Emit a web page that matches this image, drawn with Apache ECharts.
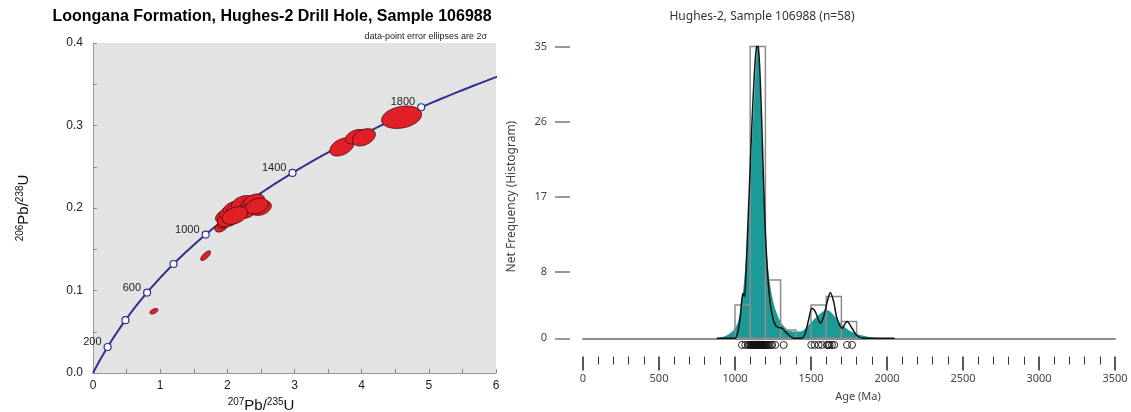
<!DOCTYPE html>
<html>
<head>
<meta charset="utf-8">
<script src="https://cdn.jsdelivr.net/npm/echarts@6/dist/echarts.min.js"></script>
<style>html,body{margin:0;padding:0;background:#fff}#c{width:1131px;height:412px}</style>
</head>
<body>
<div id="c"></div>
<script>
// ---------------- Left panel: concordia diagram ----------------
// decay constants (per Myr)
const LAMBDA_238 = 1.55125e-4;
const LAMBDA_235 = 9.8485e-4;
const concordiaMarkerAges = [200, 400, 600, 800, 1000, 1200, 1400, 1600, 1800];
const concordiaLabelAges = [200, 600, 1000, 1400, 1800];
const concordiaMaxAge = 2000;

// error ellipses (2 sigma): centre 207Pb/235U, 206Pb/238U, half-extents, correlation
const ellX   = [1.915, 1.964, 1.979, 2.024, 2.054, 2.083, 2.158, 2.232, 2.351, 2.396, 2.292, 2.500, 2.440, 2.113, 1.677, 0.907, 3.705, 3.914, 4.033, 4.594];
const ellY   = [0.1776, 0.1830, 0.1903, 0.1867, 0.1952, 0.2000, 0.1988, 0.2061, 0.2048, 0.2085, 0.1964, 0.2000, 0.2024, 0.1909, 0.1422, 0.0749, 0.2740, 0.2864, 0.2857, 0.3100];
const ellSX  = [0.100, 0.110, 0.155, 0.170, 0.170, 0.140, 0.170, 0.170, 0.155, 0.155, 0.155, 0.155, 0.170, 0.190, 0.074, 0.060, 0.179, 0.156, 0.171, 0.298];
const ellSY  = [0.0068, 0.0072, 0.0090, 0.0096, 0.0090, 0.0080, 0.0090, 0.0090, 0.0090, 0.0085, 0.0090, 0.0090, 0.0096, 0.0108, 0.0059, 0.0034, 0.0110, 0.0088, 0.0105, 0.0136];
const ellRho = [0.45, 0.4, 0.35, 0.35, 0.35, 0.35, 0.35, 0.35, 0.35, 0.35, 0.35, 0.3, 0.3, 0.35, 0.72, 0.5, 0.4, 0.35, 0.35, 0.25];

// ---------------- Right panel: age histogram ----------------
const histBinStart = [1000, 1100, 1200, 1300, 1500, 1600, 1700];
const histBinEnd   = [1100, 1200, 1300, 1400, 1600, 1700, 1800];
const histCount    = [4, 35, 7, 1, 4, 5, 2];
const freqTicks = [0, 8, 17, 26, 35];

const kdeAges = [880, 940, 991, 1020, 1046, 1070, 1094, 1112, 1127, 1140, 1149, 1158, 1168, 1182, 1199, 1220, 1254, 1298, 1340, 1380, 1430, 1495, 1550, 1605, 1649, 1693, 1747, 1803, 1889, 1970, 2050];
const kdeVals = [0, 0.3, 1.0, 2.0, 4.5, 9, 16, 23.5, 29, 33.5, 35.2, 33.5, 28.5, 21, 14, 8, 4.2, 2.0, 1.1, 0.8, 0.8, 1.8, 2.8, 3.4, 2.8, 1.8, 1.0, 0.5, 0.12, 0.03, 0];

const pdpAges = [880, 1000, 1015, 1027, 1035, 1045, 1053, 1063, 1071, 1079, 1090, 1101, 1112, 1122, 1136, 1149, 1158, 1166, 1175, 1184, 1194, 1204, 1218, 1232, 1248, 1265, 1285, 1309, 1325, 1342, 1365, 1386, 1440, 1462, 1484, 1506, 1528, 1545, 1561, 1578, 1594, 1610, 1627, 1649, 1671, 1704, 1737, 1770, 1803, 1846, 2050];
const pdpVals = [0, 0, 0.5, 1.5, 2.6, 4.6, 5.4, 5.0, 7.5, 11, 16, 21, 26, 29.8, 34, 35.5, 34, 31, 26.5, 21, 15.5, 11, 6.8, 4.2, 2.5, 1.6, 1.3, 1.2, 0.9, 0.6, 0.2, 0, 0, 0.6, 2.2, 3.6, 3.2, 2.4, 1.8, 2.3, 3.4, 4.6, 5.5, 4.4, 2.4, 1.2, 2.0, 1.2, 0.3, 0, 0];

const grainAges = [1046, 1068, 1085, 1094,
  1102, 1108, 1113, 1117, 1120, 1123, 1126, 1128, 1131, 1133, 1135, 1137, 1139, 1141, 1143, 1145, 1147, 1149,
  1151, 1153, 1155, 1157, 1159, 1161, 1163, 1166, 1169, 1172, 1175, 1178, 1182, 1186, 1190, 1194, 1198,
  1204, 1210, 1216, 1222, 1236, 1245, 1265,
  1320,
  1502, 1524, 1550, 1572,
  1605, 1614, 1622, 1638, 1653,
  1737, 1770];

// ---------------- build ----------------
const LEFT_FONT = '"Liberation Sans", Arial, Helvetica, sans-serif';
const RIGHT_FONT = '"Noto Sans", "Open Sans", sans-serif';
const NAVY = '#2e3192';

const concCurve = [];
for (let t = 0; t <= concordiaMaxAge; t += 10) {
  concCurve.push([Math.expm1(LAMBDA_235 * t), Math.expm1(LAMBDA_238 * t)]);
}
const concMarkers = concordiaMarkerAges.map(t => ({
  value: [Math.expm1(LAMBDA_235 * t), Math.expm1(LAMBDA_238 * t)],
  age: t,
  label: { show: concordiaLabelAges.indexOf(t) >= 0 }
}));
const ellData = ellX.map((x, i) => [x, ellY[i], ellSX[i], ellSY[i], ellRho[i]]);
const histData = histBinStart.map((s, i) => [s, histBinEnd[i], histCount[i]]);
const kdeData = kdeAges.map((a, i) => [a, kdeVals[i]]);
const pdpData = pdpAges.map((a, i) => [a, pdpVals[i]]);
const grainData = grainAges.map(a => [a, -0.8]);

function ellipseRender(params, api) {
  const cx = api.value(0), cy = api.value(1), sx = api.value(2), sy = api.value(3), r = api.value(4);
  const pts = [];
  const n = 60;
  const q = Math.sqrt(1 - r * r);
  for (let k = 0; k < n; k++) {
    const th = 2 * Math.PI * k / n;
    pts.push(api.coord([cx + sx * Math.cos(th), cy + sy * (r * Math.cos(th) + q * Math.sin(th))]));
  }
  return { type: 'polygon', shape: { points: pts }, style: { fill: '#e21f26', stroke: '#3b0b0b', lineWidth: 0.8 } };
}
function histRender(params, api) {
  const a = api.coord([api.value(0), 0]);
  const b = api.coord([api.value(1), api.value(2)]);
  return { type: 'rect', shape: { x: a[0], y: b[1], width: b[0] - a[0], height: a[1] - b[1] },
           style: { fill: 'none', stroke: '#8c8c8c', lineWidth: 1.5 } };
}

const supRich = {
  n: { fontSize: 15, fontFamily: LEFT_FONT, color: '#111', lineHeight: 18 },
  sup: { fontSize: 10, fontFamily: LEFT_FONT, color: '#111', verticalAlign: 'top', lineHeight: 18, padding: [0, 0, 6, 0] }
};

const chart = echarts.init(document.getElementById('c'));
chart.setOption({
  animation: false,
  backgroundColor: '#fff',
  graphic: [
    { type: 'text', x: 272, y: 17, style: { text: 'Loongana Formation, Hughes-2 Drill Hole, Sample 106988', font: 'bold 16px "Liberation Sans", Arial', fill: '#000', align: 'center', verticalAlign: 'middle' } },
    { type: 'text', x: 487, y: 37, style: { text: 'data-point error ellipses are 2σ', font: '9px "Liberation Sans", Arial', fill: '#222', align: 'right', verticalAlign: 'middle' } },
    { type: 'text', x: 762, y: 17, style: { text: 'Hughes-2, Sample 106988 (n=58)', font: '12px "Noto Sans"', fill: '#333', align: 'center', verticalAlign: 'middle' } }
  ],
  grid: [
    { left: 93, top: 43, width: 403, height: 330, show: true, backgroundColor: '#e3e3e3', borderWidth: 0, containLabel: false, outerBoundsMode: 'none' },
    { left: 583, top: 46.6, width: 532, height: 300, show: false, containLabel: false, outerBoundsMode: 'none' }
  ],
  xAxis: [
    { gridIndex: 0, type: 'value', min: 0, max: 6, interval: 1,
      axisLine: { show: true, onZero: false, lineStyle: { color: '#9a9a9a', width: 1 } },
      axisTick: { show: true, inside: true, length: 4, lineStyle: { color: '#8a8a8a' } },
      minorTick: { show: true, splitNumber: 2, length: 4, lineStyle: { color: '#8a8a8a' } },
      splitLine: { show: false }, minorSplitLine: { show: false },
      axisLabel: { margin: 7, fontSize: 12, color: '#222', fontFamily: LEFT_FONT },
      name: '{sup|207}{n|Pb/}{sup|235}{n|U}', nameLocation: 'middle', nameGap: 12,
      nameTextStyle: { padding: [0, 67, 0, 0], rich: supRich } },
    { gridIndex: 1, type: 'value', min: 0, max: 3500,
      axisLine: { show: true, onZero: true, lineStyle: { color: '#8c8c8c', width: 2 } },
      axisTick: { show: false }, axisLabel: { show: false }, splitLine: { show: false } },
    { gridIndex: 1, type: 'value', min: 0, max: 3500, interval: 500, position: 'bottom', offset: 10,
      axisLine: { show: false, onZero: false },
      axisTick: { show: true, length: 14, lineStyle: { color: '#222', width: 1.5 } },
      minorTick: { show: true, splitNumber: 5, length: 8, lineStyle: { color: '#333', width: 1 } },
      splitLine: { show: false }, minorSplitLine: { show: false },
      axisLabel: { margin: 17, fontSize: 11, color: '#444', fontFamily: RIGHT_FONT, formatter: v => String(v) },
      name: 'Age (Ma)', nameLocation: 'middle', nameGap: 35,
      nameTextStyle: { fontSize: 11, color: '#444', fontFamily: RIGHT_FONT, padding: [0, 0, 0, 18] } }
  ],
  yAxis: [
    { gridIndex: 0, type: 'value', min: 0, max: 0.4, interval: 0.1,
      axisLine: { show: true, onZero: false, lineStyle: { color: '#9a9a9a', width: 1 } },
      axisTick: { show: true, inside: true, length: 4, lineStyle: { color: '#8a8a8a' } },
      minorTick: { show: true, splitNumber: 2, length: 4, lineStyle: { color: '#8a8a8a' } },
      splitLine: { show: false }, minorSplitLine: { show: false },
      axisLabel: { margin: 10, fontSize: 12, color: '#222', fontFamily: LEFT_FONT, formatter: v => v.toFixed(1) },
      name: '{sup|206}{n|Pb/}{sup|238}{n|U}', nameLocation: 'middle', nameRotate: 90, nameGap: 60,
      nameTextStyle: { rich: supRich } },
    { gridIndex: 1, type: 'value', min: -1, max: 35, offset: 13,
      axisLine: { show: false, onZero: false },
      axisTick: { show: true, length: 15, customValues: freqTicks, lineStyle: { color: '#777', width: 1.5 } },
      axisLabel: { customValues: freqTicks, margin: 23, fontSize: 11, color: '#444', fontFamily: RIGHT_FONT },
      splitLine: { show: false },
      name: 'Net Frequency (Histogram)', nameLocation: 'middle', nameRotate: 90, nameGap: 52,
      nameTextStyle: { fontSize: 12, color: '#444', fontFamily: RIGHT_FONT } }
  ],
  series: [
    { type: 'line', xAxisIndex: 0, yAxisIndex: 0, data: concCurve, showSymbol: false, silent: true,
      lineStyle: { color: NAVY, width: 2 }, z: 2 },
    { type: 'scatter', xAxisIndex: 0, yAxisIndex: 0, data: concMarkers, symbolSize: 7, silent: true,
      itemStyle: { color: '#fff', borderColor: NAVY, borderWidth: 1.2, opacity: 1 },
      label: { position: 'left', distance: 2, offset: [0, -5], fontSize: 11, color: '#222', fontFamily: LEFT_FONT,
               formatter: p => String(p.data.age) }, z: 3 },
    { type: 'custom', xAxisIndex: 0, yAxisIndex: 0, data: ellData, renderItem: ellipseRender,
      encode: { x: 0, y: 1 }, silent: true, z: 4 },
    { type: 'line', xAxisIndex: 1, yAxisIndex: 1, data: kdeData, smooth: 0.3, showSymbol: false, silent: true,
      lineStyle: { width: 0 }, itemStyle: { color: '#1b9b97' }, areaStyle: { color: '#1b9b97', opacity: 1 }, z: 2 },
    { type: 'custom', xAxisIndex: 1, yAxisIndex: 1, data: histData, renderItem: histRender,
      encode: { x: [0, 1], y: 2 }, silent: true, z: 3 },
    { type: 'line', xAxisIndex: 1, yAxisIndex: 1, data: pdpData, smooth: 0.3, showSymbol: false, silent: true,
      lineStyle: { color: '#111', width: 1.5 }, itemStyle: { color: '#111' }, z: 4 },
    { type: 'scatter', xAxisIndex: 1, yAxisIndex: 1, data: grainData, symbol: 'circle', symbolSize: 7, silent: true,
      itemStyle: { color: 'rgba(255,255,255,0)', borderColor: '#111', borderWidth: 0.9, opacity: 1 }, z: 5 }
  ]
});
</script>
</body>
</html>
